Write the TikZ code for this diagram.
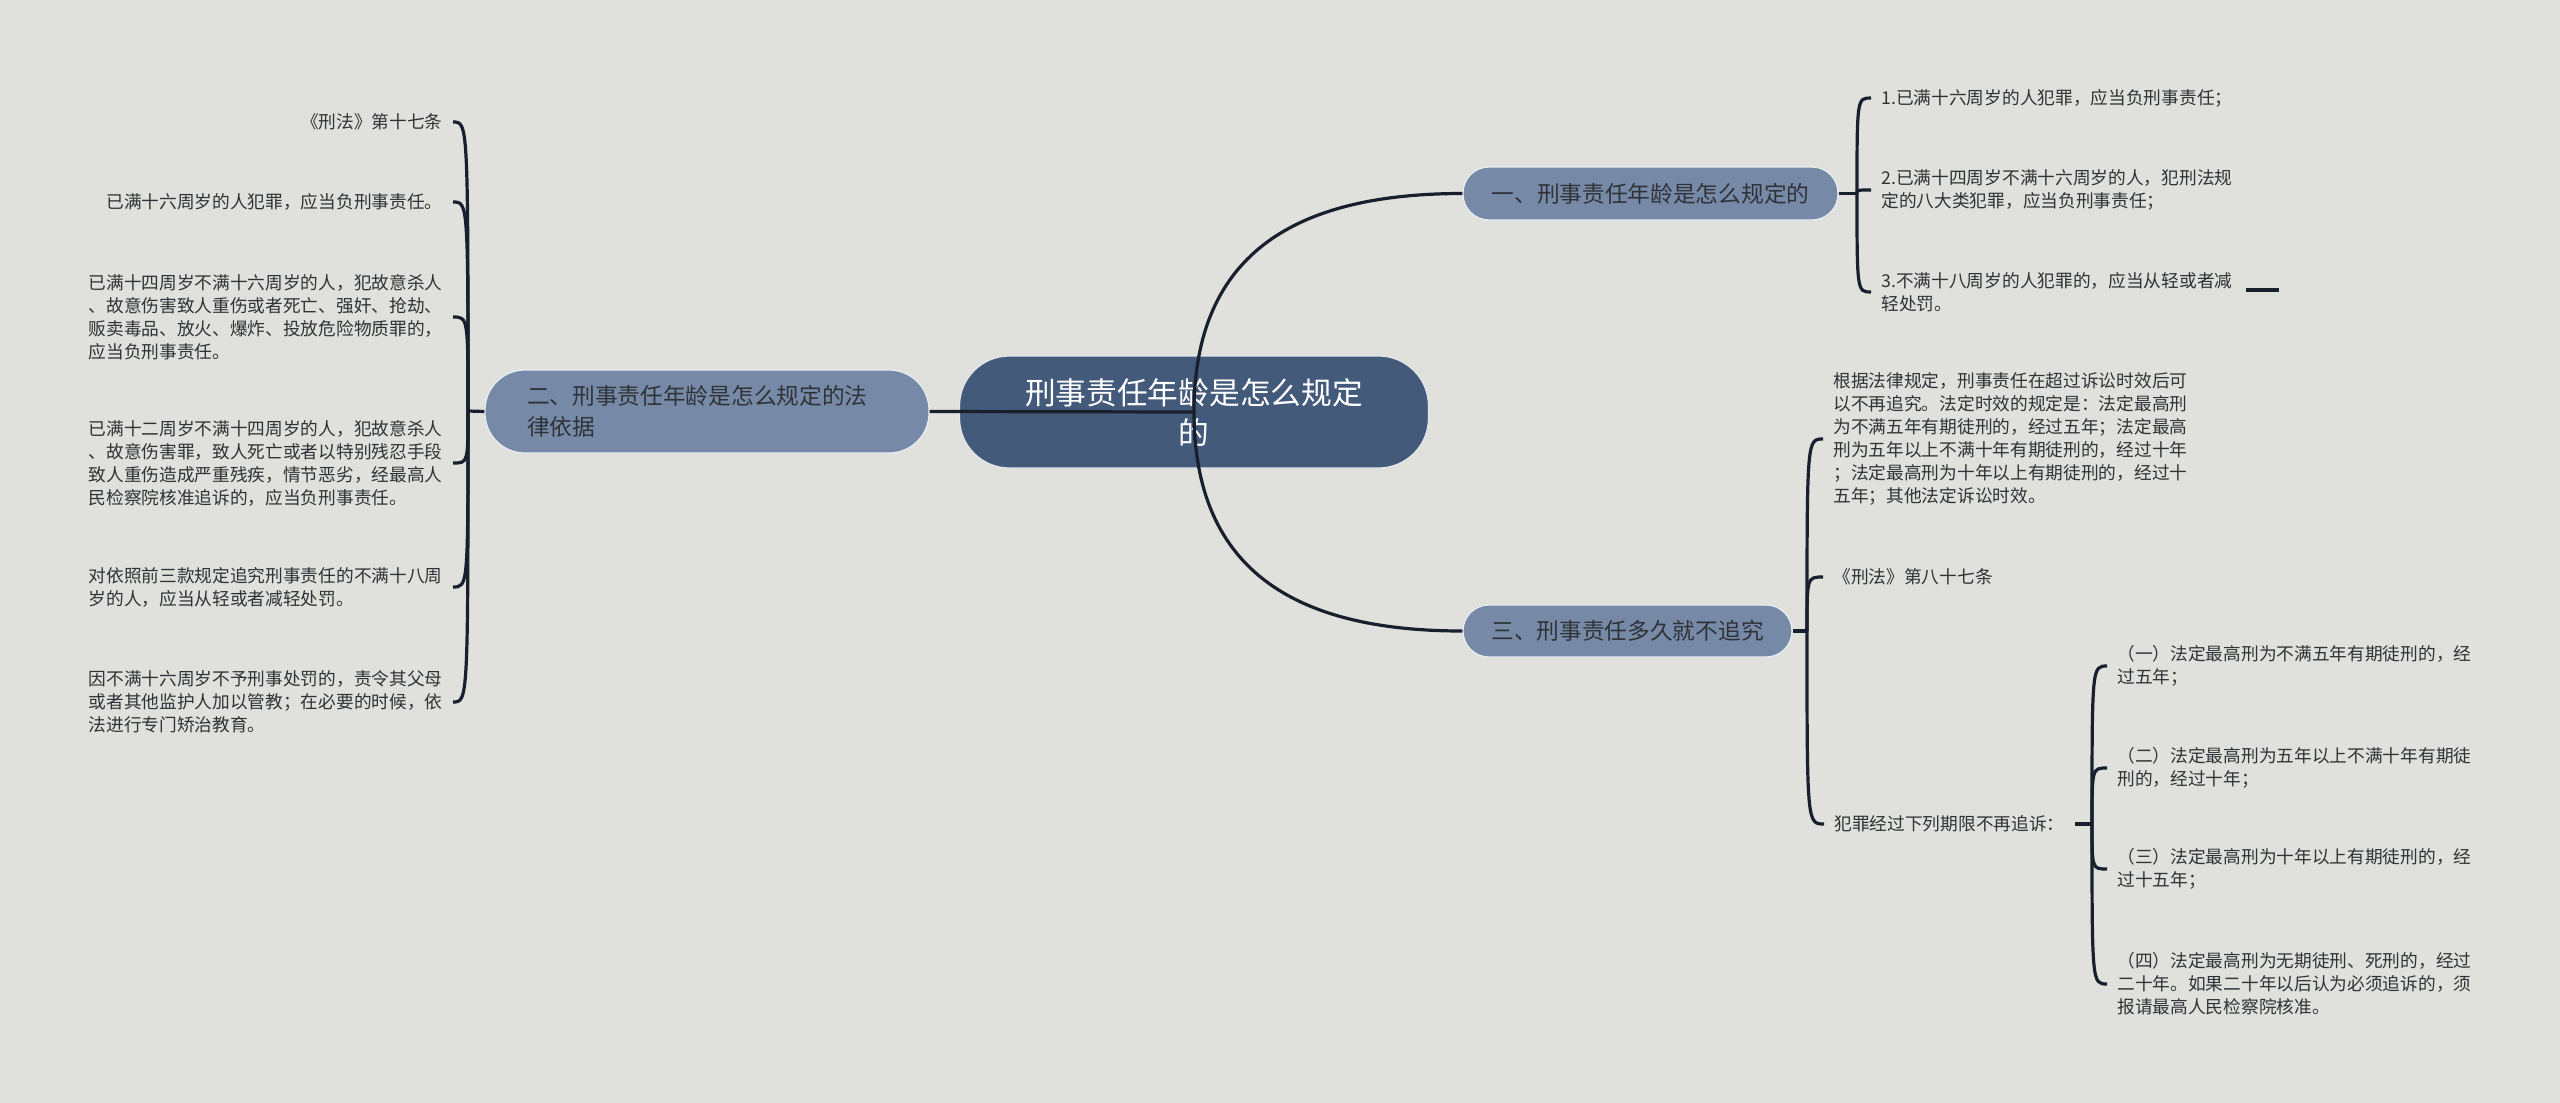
\documentclass[tikz,border=0pt]{standalone}
\usepackage{fontspec}
\setmainfont{Noto Sans CJK SC}
\definecolor{bgcol}{HTML}{E0E1DC}
\definecolor{rootcol}{HTML}{435A7A}
\definecolor{topiccol}{HTML}{768AA8}
\definecolor{linecol}{HTML}{18202E}
\definecolor{textcol}{HTML}{2F3236}

\begin{document}
\begin{tikzpicture}[x=0.5pt,y=-0.5pt,
    link/.style={draw=linecol, line width=1.6pt},
    rootnode/.style={fill=rootcol, draw=white!85!rootcol, line width=0.6pt, rounded corners=25pt,
        minimum width=234.5pt, minimum height=56pt, text=white, align=center,
        font=\fontsize{15.35}{20}\selectfont},
    topic/.style={fill=topiccol, draw=white!85!topiccol, line width=0.6pt, text=textcol,
        font=\fontsize{11.35}{15.5}\selectfont},
    leaf/.style={text=textcol, inner xsep=5pt, inner ysep=2pt, align=left,
        font=\fontsize{8.85}{11.5}\selectfont}]
    \fill[bgcol] (0,0) rectangle (2560,1103);
    \useasboundingbox (0,0) rectangle (2560,1103);

    % main topics
    \node[rootnode] (root) at (1194,412) {刑事责任年龄是怎么规定\\的};
    \node[topic, rounded corners=20pt, text width=180pt, inner xsep=21pt, minimum height=41.5pt, align=left] (n2) at (707,411.5) {二、刑事责任年龄是怎么规定的法\\律依据};
    \node[topic, rounded corners=13pt, minimum width=187.5pt, minimum height=26.5pt] (n1) at (1650.5,193.5) {一、刑事责任年龄是怎么规定的};
    \node[topic, rounded corners=13pt, minimum width=164.5pt, minimum height=26pt] (n3) at (1627.5,631) {三、刑事责任多久就不追究};

    % left side
    \node[leaf, anchor=east] (l1) at (453,122) {《刑法》第十七条};
    \node[leaf, anchor=east] (l2) at (453,202) {已满十六周岁的人犯罪，应当负刑事责任。};
    \node[leaf, anchor=east] (l3) at (453,317) {已满十四周岁不满十六周岁的人，犯故意杀人\\、故意伤害致人重伤或者死亡、强奸、抢劫、\\贩卖毒品、放火、爆炸、投放危险物质罪的，\\应当负刑事责任。};
    \node[leaf, anchor=east] (l4) at (453,463) {已满十二周岁不满十四周岁的人，犯故意杀人\\、故意伤害罪，致人死亡或者以特别残忍手段\\致人重伤造成严重残疾，情节恶劣，经最高人\\民检察院核准追诉的，应当负刑事责任。};
    \node[leaf, anchor=east] (l5) at (453,587) {对依照前三款规定追究刑事责任的不满十八周\\岁的人，应当从轻或者减轻处罚。};
    \node[leaf, anchor=east] (l6) at (453,702) {因不满十六周岁不予刑事处罚的，责令其父母\\或者其他监护人加以管教；在必要的时候，依\\法进行专门矫治教育。};

    % right side, first topic
    \node[leaf, anchor=west] (k1) at (1871,98) {1.已满十六周岁的人犯罪，应当负刑事责任；};
    \node[leaf, anchor=west] (k2) at (1871,190) {2.已满十四周岁不满十六周岁的人，犯刑法规\\定的八大类犯罪，应当负刑事责任；};
    \node[leaf, anchor=west] (k3) at (1871,292) {3.不满十八周岁的人犯罪的，应当从轻或者减\\轻处罚。};

    % right side, third topic
    \node[leaf, anchor=west] (a1) at (1823,439) {根据法律规定，刑事责任在超过诉讼时效后可\\以不再追究。法定时效的规定是：法定最高刑\\为不满五年有期徒刑的，经过五年；法定最高\\刑为五年以上不满十年有期徒刑的，经过十年\\；法定最高刑为十年以上有期徒刑的，经过十\\五年；其他法定诉讼时效。};
    \node[leaf, anchor=west] (a2) at (1823,577) {《刑法》第八十七条};
    \node[leaf, anchor=west] (a3) at (1824,824) {犯罪经过下列期限不再追诉：};

    \node[leaf, anchor=west] (d1) at (2107,666) {（一）法定最高刑为不满五年有期徒刑的，经\\过五年；};
    \node[leaf, anchor=west] (d2) at (2107,768) {（二）法定最高刑为五年以上不满十年有期徒\\刑的，经过十年；};
    \node[leaf, anchor=west] (d3) at (2107,869) {（三）法定最高刑为十年以上有期徒刑的，经\\过十五年；};
    \node[leaf, anchor=west] (d4) at (2107,984) {（四）法定最高刑为无期徒刑、死刑的，经过\\二十年。如果二十年以后认为必须追诉的，须\\报请最高人民检察院核准。};

    \coordinate (s2) at (468,411);
    \coordinate (s1) at (1857,193.5);
    \coordinate (s3) at (1807,631);
    \coordinate (sd) at (2092,824);
    \coordinate (e1) at (2246,290);
    \coordinate (e2) at (2279,290);

    % connectors
    \draw[link] (root.center) -- (n2.east);
    \draw[link] (root.center) to[out=90,in=180,looseness=1.2] (n1.west);
    \draw[link] (root.center) to[out=-90,in=180,looseness=1.2] (n3.west);

    \draw[link] (n2.west) -- (s2);
    \foreach \k in {l1,l2,l3,l4,l5,l6}
        \draw[link] (s2) .. controls (s2 |- \k.east) .. (\k.east);

    \draw[link] (n1.east) -- (s1);
    \foreach \k in {k1,k2,k3}
        \draw[link] (s1) .. controls (s1 |- \k.west) .. (\k.west);

    \draw[link] (n3.east) -- (s3);
    \foreach \k in {a1,a2,a3}
        \draw[link] (s3) .. controls (s3 |- \k.west) .. (\k.west);

    \draw[link] (a3.east) -- (sd);
    \foreach \k in {d1,d2,d3,d4}
        \draw[link] (sd) .. controls (sd |- \k.west) .. (\k.west);

    \draw[link, line width=1.8pt] (e1) -- (e2);
\end{tikzpicture}
\end{document}
